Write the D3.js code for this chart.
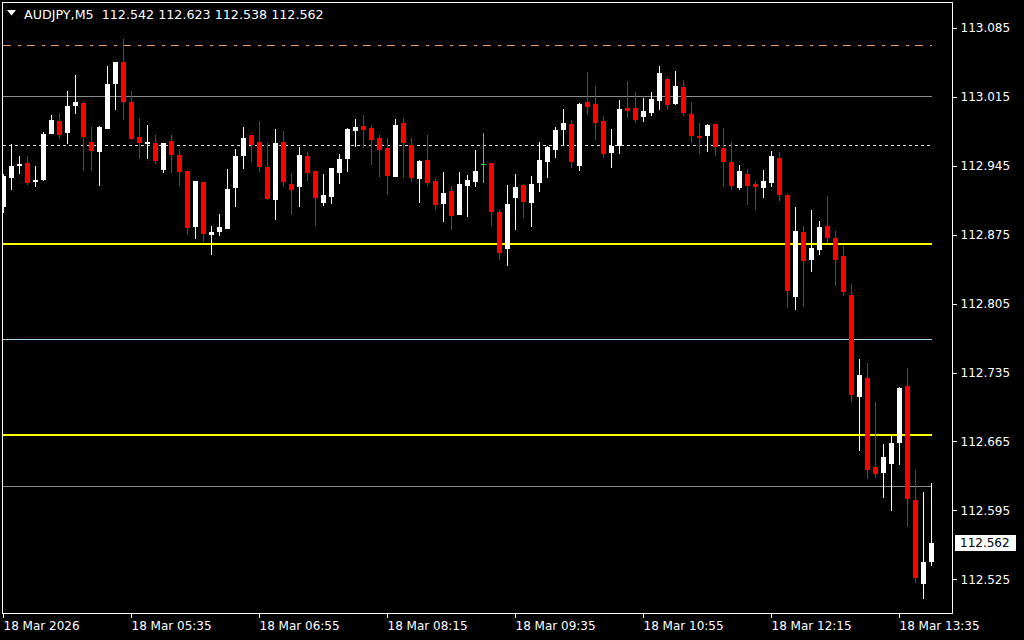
<!DOCTYPE html>
<html>
<head>
<meta charset="utf-8">
<script src="https://cdn.jsdelivr.net/npm/d3@7"></script>
<style>
    body { margin: 0; background: #000; }
    svg text { font-family: "DejaVu Sans", sans-serif; font-size: 12px; }
</style>
</head>
<body>
<div id="chart"></div>
<script>
// AUDJPY M5 candles, 18 Mar 04:15 .. 13:55
const symbol = "AUDJPY,M5";

const opens = [
    112.903, 112.933, 112.945, 112.948, 112.929, 112.931, 112.977, 112.991, 112.978, 113.006,
    113.009, 112.969, 112.959, 112.982, 113.028, 113.050, 113.010, 112.974, 112.967, 112.968,
    112.941, 112.970, 112.956, 112.940, 112.883, 112.929, 112.875, 112.878, 112.881, 112.922,
    112.955, 112.976, 112.969, 112.944, 112.910, 112.969, 112.927, 112.923, 112.955, 112.940,
    112.907, 112.913, 112.938, 112.952, 112.980, 112.985, 112.983, 112.973, 112.963, 112.934,
    112.989, 112.966, 112.932, 112.951, 112.930, 112.906, 112.919, 112.895, 112.925, 112.929,
    112.947, 112.948, 112.898, 112.860, 112.912, 112.926, 112.907, 112.928, 112.949, 112.961,
    112.981, 112.988, 112.945, 113.010, 113.008, 112.991, 112.958, 112.965, 113.004, 113.004,
    112.995, 112.999, 113.011, 113.033, 113.008, 113.025, 112.998, 112.975, 112.975, 112.988,
    112.963, 112.949, 112.922, 112.937, 112.927, 112.922, 112.928, 112.953, 112.915, 112.812,
    112.878, 112.849, 112.859, 112.884, 112.872, 112.853, 112.814, 112.710, 112.729, 112.639,
    112.633, 112.642, 112.663, 112.721, 112.605, 112.520, 112.542];

const highs = [
    112.937, 112.967, 112.955, 112.955, 112.945, 112.979, 112.997, 112.999, 113.021, 113.037,
    113.010, 112.984, 112.985, 113.046, 113.051, 113.074, 113.021, 112.994, 112.986, 112.976,
    112.968, 112.976, 112.962, 112.940, 112.930, 112.929, 112.884, 112.896, 112.942, 112.962,
    112.984, 112.976, 112.991, 112.968, 112.982, 112.980, 112.938, 112.964, 112.959, 112.940,
    112.937, 112.943, 112.957, 112.983, 112.993, 112.997, 112.987, 112.976, 112.973, 112.993,
    112.994, 112.973, 112.951, 112.976, 112.932, 112.939, 112.925, 112.939, 112.936, 112.961,
    112.978, 112.948, 112.900, 112.926, 112.937, 112.927, 112.935, 112.969, 112.965, 112.984,
    113.003, 112.992, 113.009, 113.040, 113.026, 112.996, 112.982, 113.012, 113.031, 113.020,
    113.014, 113.020, 113.046, 113.034, 113.041, 113.032, 113.010, 112.989, 112.988, 112.988,
    112.983, 112.969, 112.946, 112.942, 112.930, 112.941, 112.960, 112.959, 112.916, 112.903,
    112.884, 112.900, 112.889, 112.914, 112.879, 112.864, 112.825, 112.749, 112.745, 112.705,
    112.662, 112.671, 112.720, 112.740, 112.636, 112.614, 112.623];

const lows = [
    112.897, 112.920, 112.937, 112.926, 112.923, 112.930, 112.977, 112.972, 112.967, 112.998,
    112.940, 112.940, 112.925, 112.982, 113.002, 112.992, 112.971, 112.952, 112.952, 112.947,
    112.938, 112.938, 112.925, 112.875, 112.871, 112.868, 112.854, 112.874, 112.881, 112.903,
    112.942, 112.949, 112.939, 112.910, 112.890, 112.923, 112.895, 112.903, 112.930, 112.884,
    112.904, 112.906, 112.927, 112.939, 112.964, 112.963, 112.946, 112.934, 112.915, 112.934,
    112.933, 112.929, 112.907, 112.925, 112.900, 112.888, 112.880, 112.895, 112.893, 112.923,
    112.928, 112.884, 112.849, 112.843, 112.880, 112.892, 112.883, 112.918, 112.933, 112.953,
    112.966, 112.943, 112.940, 112.997, 112.971, 112.953, 112.943, 112.957, 112.994, 112.989,
    112.990, 112.996, 113.002, 113.002, 113.007, 112.996, 112.968, 112.957, 112.959, 112.955,
    112.924, 112.920, 112.920, 112.905, 112.900, 112.912, 112.924, 112.909, 112.801, 112.799,
    112.802, 112.837, 112.854, 112.867, 112.823, 112.813, 112.705, 112.655, 112.627, 112.628,
    112.608, 112.594, 112.641, 112.578, 112.521, 112.505, 112.538];

const closes = [
    112.935, 112.945, 112.947, 112.928, 112.931, 112.977, 112.992, 112.976, 113.006, 113.010,
    112.974, 112.960, 112.984, 113.028, 113.051, 113.010, 112.972, 112.968, 112.969, 112.950,
    112.968, 112.956, 112.939, 112.882, 112.930, 112.876, 112.878, 112.883, 112.921, 112.955,
    112.973, 112.966, 112.944, 112.911, 112.968, 112.929, 112.920, 112.956, 112.938, 112.912,
    112.915, 112.943, 112.952, 112.982, 112.984, 112.981, 112.971, 112.961, 112.935, 112.987,
    112.968, 112.933, 112.950, 112.928, 112.905, 112.917, 112.894, 112.927, 112.931, 112.940,
    112.947, 112.898, 112.856, 112.906, 112.923, 112.908, 112.927, 112.951, 112.964, 112.981,
    112.989, 112.949, 113.008, 113.005, 112.989, 112.957, 112.965, 113.003, 113.001, 112.992,
    113.001, 113.013, 113.039, 113.007, 113.026, 112.999, 112.975, 112.973, 112.987, 112.964,
    112.949, 112.925, 112.940, 112.925, 112.923, 112.930, 112.955, 112.915, 112.818, 112.879,
    112.848, 112.862, 112.883, 112.872, 112.849, 112.817, 112.712, 112.732, 112.636, 112.632,
    112.649, 112.663, 112.719, 112.606, 112.526, 112.542, 112.562];

const timeTickIndex = [0, 16, 32, 48, 64, 80, 96, 112];
const timeTickLabels = ["18 Mar 2026", "18 Mar 05:35", "18 Mar 06:55", "18 Mar 08:15",
    "18 Mar 09:35", "18 Mar 10:55", "18 Mar 12:15", "18 Mar 13:35"];
const priceTicks = [113.085, 113.015, 112.945, 112.875, 112.805, 112.735, 112.665, 112.595, 112.525];

// horizontal objects on the chart
const levelPrices = [113.068, 113.016, 112.966, 112.866, 112.769, 112.672, 112.620];

// styling for the levels above, same order
let levelStyles = [
    { color: "#eb9c64", width: 1, dash: "8,7,3,6" },
    { color: "#8c8c8c", width: 1, dash: null },
    { color: "#e0e0e0", width: 1, dash: "3,3" },
    { color: "#ffff00", width: 2, dash: null },
    { color: "#a3d8ea", width: 1, dash: null },
    { color: "#ffff00", width: 2, dash: null },
    { color: "#8c8c8c", width: 1, dash: null }
];

let width = 1024, height = 640;
let frameLeft = 2.5, frameTop = 2.5, frameRight = 952.5, frameBottom = 613.5;
let bullColor = "#ffffff", bearColor = "#ff0000", dojiColor = "#00ff00";

let svg = d3.select("#chart").append("svg")
    .attr("width", width)
    .attr("height", height)
    .style("background", "#000")
    .style("display", "block");

let x = d3.scaleLinear().domain([0, opens.length - 1]).range([3, 931]);
let y = d3.scaleLinear().domain([112.525, 113.085]).range([579.2, 28.05]);

svg.append("clipPath").attr("id", "plotClip")
    .append("rect")
    .attr("x", 3).attr("y", 3)
    .attr("width", frameRight - 3.5).attr("height", frameBottom - 3.5);

let plot = svg.append("g").attr("clip-path", "url(#plotClip)").attr("shape-rendering", "crispEdges");

//LEVELS
{
    for (let i = 0; i < levelPrices.length; ++i) {
        let st = levelStyles[i];
        let yy = Math.round(y(levelPrices[i])) + (st.width % 2 ? 0.5 : 0);
        let ln = plot.append("line")
            .attr("x1", 3).attr("x2", 932)
            .attr("y1", yy).attr("y2", yy)
            .style("stroke", st.color)
            .style("stroke-width", st.width);
        if (st.dash) ln.style("stroke-dasharray", st.dash);
    }
}

//CANDLES
{
    for (let i = 0; i < opens.length; ++i) {
        let o = opens[i], h = highs[i], l = lows[i], c = closes[i];
        let cx = Math.round(x(i));
        let color = c > o ? bullColor : (c < o ? bearColor : dojiColor);
        let yh = Math.round(y(h)), yl = Math.round(y(l));

        plot.append("rect")
            .attr("x", cx).attr("y", yh)
            .attr("width", 1).attr("height", Math.max(1, yl - yh))
            .style("fill", color);

        if (c === o) {
            plot.append("rect")
                .attr("x", cx - 2).attr("y", Math.round(y(o)))
                .attr("width", 5).attr("height", 1)
                .style("fill", color);
            continue;
        }
        let yt = Math.round(y(Math.max(o, c))), yb = Math.round(y(Math.min(o, c)));
        plot.append("rect")
            .attr("x", cx - 2).attr("y", yt)
            .attr("width", 5).attr("height", Math.max(1, yb - yt))
            .style("fill", color);
    }
}

//FRAME
svg.append("rect")
    .attr("x", frameLeft).attr("y", frameTop)
    .attr("width", frameRight - frameLeft).attr("height", frameBottom - frameTop)
    .attr("shape-rendering", "crispEdges")
    .style("fill", "none")
    .style("stroke", "#ffffff")
    .style("stroke-width", 1);

//PRICE AXIS
{
    let ax = svg.append("g")
        .attr("transform", "translate(" + frameRight + ",0)")
        .call(d3.axisRight(y).tickValues(priceTicks).tickSize(4).tickPadding(4).tickFormat(d3.format(".3f")));
    ax.select(".domain").remove();
    ax.selectAll("line").style("stroke", "#ffffff").attr("shape-rendering", "crispEdges");
    ax.selectAll("text").style("fill", "#ffffff").attr("font-family", null).attr("font-size", null);
}

//TIME AXIS
{
    let ax = svg.append("g")
        .attr("transform", "translate(0," + frameBottom + ")")
        .call(d3.axisBottom(x).tickValues(timeTickIndex).tickSize(4).tickPadding(4)
            .tickFormat((d, i) => timeTickLabels[i]));
    ax.select(".domain").remove();
    ax.selectAll("line").style("stroke", "#ffffff").attr("shape-rendering", "crispEdges");
    ax.selectAll("text")
        .attr("text-anchor", "start")
        .attr("x", 0)
        .style("fill", "#ffffff")
        .attr("font-family", null).attr("font-size", null);
}

//LAST PRICE LABEL
{
    let last = closes[closes.length - 1];
    let yy = Math.round(y(last));
    svg.append("rect")
        .attr("x", 955).attr("y", yy - 8)
        .attr("width", 61).attr("height", 16)
        .style("fill", "#ffffff");
    svg.append("text")
        .attr("x", 960).attr("y", yy)
        .attr("dy", ".36em")
        .text(d3.format(".3f")(last))
        .style("fill", "#000000");
}

//TITLE
{
    let n = opens.length - 1;
    svg.append("path")
        .attr("d", "M7,10 L16,10 L11.5,15.5 Z")
        .style("fill", "#ffffff");
    let f = d3.format(".3f");
    svg.append("text")
        .attr("x", 24).attr("y", 14)
        .attr("dy", ".36em")
        .style("font-size", "12.7px")
        .style("white-space", "pre")
        .text(symbol + "  " + [opens[n], highs[n], lows[n], closes[n]].map(f).join(" "))
        .style("fill", "#ffffff");
}
</script>
</body>
</html>
